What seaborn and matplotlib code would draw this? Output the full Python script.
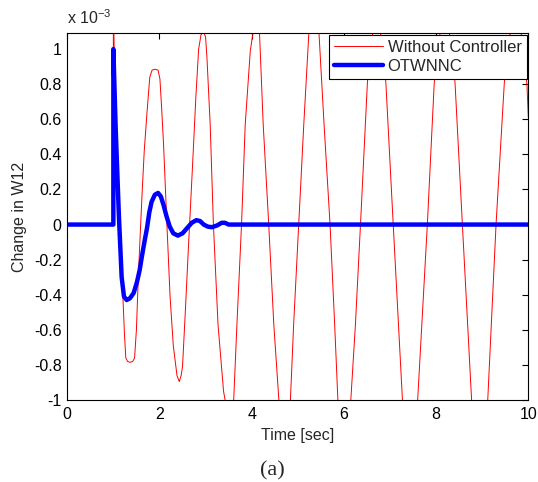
import matplotlib
matplotlib.use("Agg")
import matplotlib.pyplot as plt
import seaborn as sns
import pandas as pd
from matplotlib.ticker import FuncFormatter

# ---- data (values in units of 1e-3) ----
t_nc = [0.0, 1.0, 1.0, 1.05, 1.12, 1.2, 1.24, 1.27, 1.31, 1.36, 1.42, 1.46, 1.5, 1.54,
        1.58, 1.62, 1.67, 1.73, 1.79, 1.84, 1.9, 1.97, 2.01, 2.05, 2.09, 2.16, 2.23,
        2.30, 2.38, 2.43, 2.47, 2.50, 2.56, 2.63, 2.72, 2.79, 2.85, 2.9, 2.95, 3.0,
        3.03, 3.10, 3.17, 3.27, 3.39, 3.51, 3.61, 3.68, 3.78, 3.86, 3.97, 4.09, 4.17,
        4.25, 4.37, 4.48, 4.59, 4.71, 4.84, 4.91, 5.02, 5.13, 5.24, 5.35, 5.46, 5.57,
        5.70, 5.80, 5.87, 6.01, 6.15, 6.25, 6.36, 6.51, 6.71, 6.91, 7.07, 7.27, 7.43,
        7.60, 7.81, 7.96, 8.19, 8.41, 8.57, 8.77, 8.95, 9.12, 9.30, 9.48, 9.73, 9.97, 10.0]
y_nc = [0.0, 0.0, 1.25, 0.55, 0.02, -0.37, -0.62, -0.76, -0.78, -0.785, -0.78, -0.76, -0.6,
        -0.31, -0.07, 0.16, 0.42, 0.64, 0.84, 0.88, 0.885, 0.88, 0.83, 0.65, 0.45, 0.01,
        -0.41, -0.69, -0.86, -0.895, -0.86, -0.81, -0.50, -0.12, 0.35, 0.73, 1.0, 1.08,
        1.1, 1.07, 0.95, 0.57, 0.0, -0.57, -0.95, -1.13, -1.0, -0.57, 0.0, 0.57, 0.99,
        1.2, 1.09, 0.57, 0.0, -0.57, -1.0, -1.24, -1.0, -0.57, 0.0, 0.57, 1.09, 1.26,
        1.09, 0.57, 0.0, -0.57, -1.0, -1.25, -1.0, -0.57, 0.0, 0.81, 1.3, 0.81, 0.0,
        -1.0, -1.3, -1.0, 0.0, 0.81, 1.32, 0.81, 0.0, -1.0, -1.33, -1.0, 0.0, 0.81,
        1.36, 0.80, 0.61]

t_ctl = [0.0, 1.0, 1.0, 1.05, 1.12, 1.18, 1.23, 1.29, 1.36, 1.44, 1.51, 1.57, 1.62, 1.68,
         1.73, 1.78, 1.83, 1.9, 1.97, 2.03, 2.09, 2.15, 2.22, 2.3, 2.4, 2.5, 2.6, 2.7,
         2.8, 2.88, 2.96, 3.05, 3.14, 3.25, 3.35, 3.42, 3.5, 10.0]
y_ctl = [0.0, 0.0, 1.0, 0.55, 0.05, -0.3, -0.41, -0.43, -0.42, -0.39, -0.33, -0.26, -0.18,
         -0.09, -0.02, 0.07, 0.13, 0.17, 0.18, 0.16, 0.11, 0.05, -0.01, -0.05, -0.063,
         -0.05, -0.02, 0.01, 0.025, 0.02, 0.0, -0.012, -0.015, -0.005, 0.01, 0.01, 0.0, 0.0]

labels = ["Without Controller", "OTWNNC"]
x_ticks = [0, 2, 4, 6, 8, 10]
y_ticks = [-1, -0.8, -0.6, -0.4, -0.2, 0, 0.2, 0.4, 0.6, 0.8, 1]

sns.set_style("white")
plt.rcParams["font.family"] = ["Liberation Sans", "DejaVu Sans"]
plt.rcParams["axes.unicode_minus"] = False
plt.rcParams["mathtext.fontset"] = "custom"
plt.rcParams["mathtext.rm"] = "Liberation Sans"
plt.rcParams["mathtext.it"] = "Liberation Sans"

FS = 11.5

fig = plt.figure(figsize=(5.38, 4.82), dpi=100)
ax = fig.add_axes([0.125, 0.170, 0.857, 0.761])

df_nc = pd.DataFrame({"t": t_nc, "y": y_nc})
df_ctl = pd.DataFrame({"t": t_ctl, "y": y_ctl})
sns.lineplot(data=df_nc, x="t", y="y", ax=ax, color="#ff0000", linewidth=0.7,
             estimator=None, sort=False, label=labels[0])
sns.lineplot(data=df_ctl, x="t", y="y", ax=ax, color="#0000ff", linewidth=3.2,
             estimator=None, sort=False, label=labels[1])

ax.set_xlim(0, 10)
ax.set_ylim(-1, 1.09)
ax.set_xticks(x_ticks)
ax.set_yticks(y_ticks)
ax.yaxis.set_major_formatter(FuncFormatter(lambda v, p: f"{v:g}"))
ax.tick_params(direction="in", length=4.5, width=0.8, top=True, right=True,
               labelsize=FS, colors="black")
ax.tick_params(axis="x", pad=5)
ax.tick_params(axis="y", pad=4)
for s in ax.spines.values():
    s.set_color("black")
    s.set_linewidth(0.8)

ax.set_xlabel("Time [sec]", fontsize=FS, labelpad=4)
ax.set_ylabel("Change in W12", fontsize=FS, labelpad=5)
ax.text(0.0, 1.016, "x 10$^{-3}$", transform=ax.transAxes, fontsize=FS,
        ha="left", va="bottom")

leg = ax.legend(loc="upper right", fontsize=12, frameon=True, fancybox=False,
                edgecolor="black", framealpha=1, borderaxespad=0.1,
                handlelength=2.9, handletextpad=0.3, labelspacing=0.25,
                borderpad=0.3)
leg.get_frame().set_linewidth(0.8)

fig.text(0.506, 0.024, "(a)", fontsize=16, family=["Liberation Serif"],
         ha="center", va="center")

fig.savefig("out.png", dpi=100)
